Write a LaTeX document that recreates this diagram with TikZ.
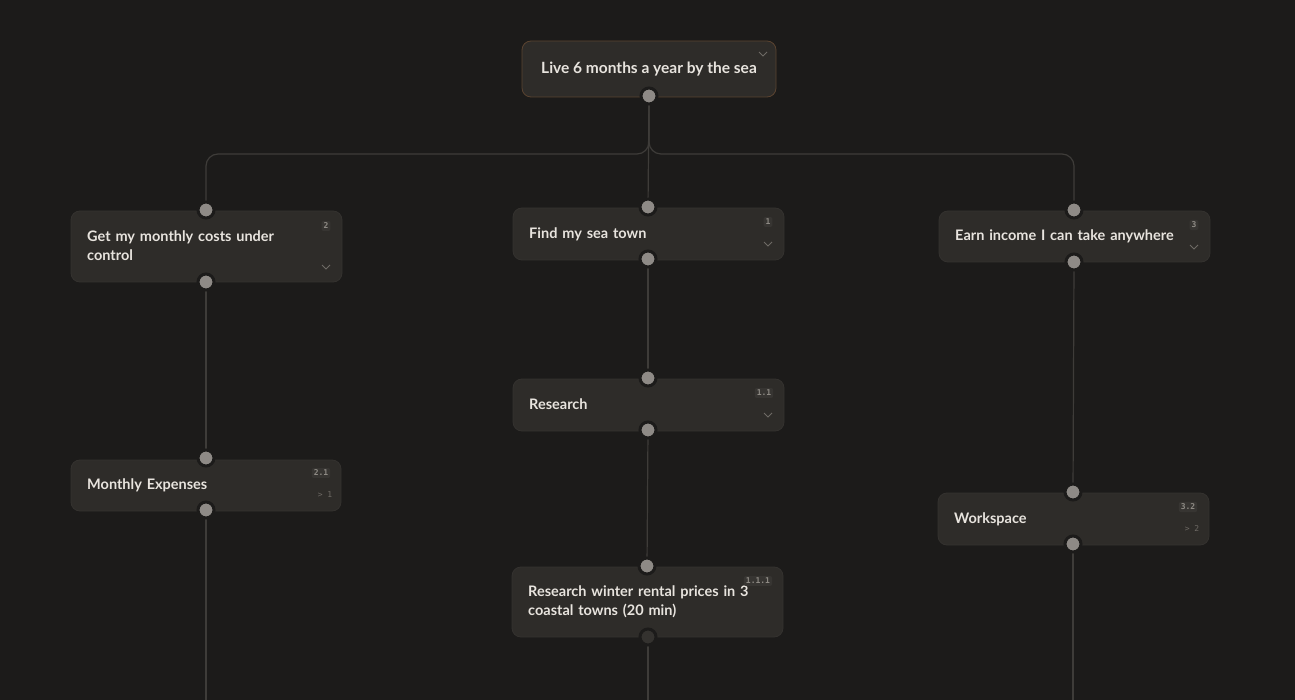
\documentclass[tikz,border=0pt]{standalone}
\usepackage{fontspec}
\setmainfont{Lato}
\setmonofont{DejaVu Sans Mono}
\begin{document}
\begin{tikzpicture}[x=1pt,y=-1pt,
  card/.style={draw=cardedge,fill=cardbg,rounded corners=9pt,line width=0.8pt,inner sep=0pt,outer sep=0pt},
  ttl/.style={anchor=west,align=left,inner sep=0pt,text=txt,font=\fontsize{14.5}{19}\selectfont\bfseries,text width=#1},
  ttl/.default=230pt,
  badge/.style={fill=badgebg,rounded corners=2pt,text=badgetxt,font=\ttfamily\bfseries\fontsize{8}{9}\selectfont,inner sep=2pt},
  chev/.style={draw=chevc,line width=0.8pt},
  hnd/.style={circle,fill=handle,draw=bg,line width=3pt,minimum size=16pt,inner sep=0pt},
  hndd/.style={circle,fill=cardedge,draw=bg,line width=3pt,minimum size=16pt,inner sep=0pt},
  wire/.style={draw=wirec,line width=1.2pt}]
\definecolor{bg}{HTML}{1C1B1A}
\definecolor{cardbg}{HTML}{2E2C29}
\definecolor{cardedge}{HTML}{34322F}
\definecolor{txt}{HTML}{E8E4DE}
\definecolor{badgebg}{HTML}{373532}
\definecolor{badgetxt}{HTML}{8E8A84}
\definecolor{chevc}{HTML}{6E6A65}
\definecolor{handle}{HTML}{8E8A86}
\definecolor{wirec}{HTML}{3E3C39}
\definecolor{topedge}{HTML}{5A4330}
\fill[bg] (0,0) rectangle (1295,700);
\useasboundingbox (0,0) rectangle (1295,700);
\newcommand\chevat[2]{\draw[chev] (#1-4,#2-2) -- (#1,#2+2) -- (#1+4,#2-2);}
% cards
\path[card,draw=topedge] (522,41) rectangle (776,97);
\node[text=txt,inner sep=0pt,font=\fontsize{15.5}{19}\selectfont\bfseries] (t) at (649,69) {Live 6 months a year by the sea};
\chevat{763}{54}
\path[card] (71,211) rectangle (342,282);
\node[ttl=200pt] (a) at (87,246) {Get my monthly costs under control};
\node[badge] at (326,226) {2};
\chevat{326}{267}
\path[card] (513,208) rectangle (784,260);
\node[ttl] (b) at (529,234) {Find my sea town};
\node[badge] at (768,222) {1};
\chevat{768}{244}
\path[card] (939,211) rectangle (1210,262);
\node[ttl] (c) at (955,236) {Earn income I can take anywhere};
\node[badge] at (1194,225) {3};
\chevat{1194}{247}
\path[card] (513,379) rectangle (784,431);
\node[ttl] (b1) at (529,404) {Research};
\node[badge] at (764,393) {1.1};
\chevat{768}{415}
\path[card] (71,460) rectangle (341,511);
\node[ttl] (a1) at (87,485) {Monthly Expenses};
\node[badge] at (321,473) {2.1};
\node[text=chevc,font=\ttfamily\fontsize{8}{9}\selectfont] at (325,495) {> 1};
\path[card] (938,493) rectangle (1209,545);
\node[ttl] (c1) at (954,519) {Workspace};
\node[badge] at (1188,507) {3.2};
\node[text=chevc,font=\ttfamily\fontsize{8}{9}\selectfont] at (1192,529) {> 2};
\path[card] (512,567) rectangle (783,637);
\node[ttl=225pt] (b11) at (528,602) {Research winter rental prices in 3 coastal towns (20 min)};
\node[badge] at (758,581) {1.1.1};
% handles
\coordinate (tb) at (649,96);
\coordinate (at) at (206,210); \coordinate (ab) at (206,282);
\coordinate (bt) at (648,207); \coordinate (bb) at (648,259);
\coordinate (ct) at (1074,210); \coordinate (cb) at (1074,262);
\coordinate (b1t) at (648,378); \coordinate (b1b) at (648,430);
\coordinate (a1t) at (206,458); \coordinate (a1b) at (206,510);
\coordinate (c1t) at (1073,492); \coordinate (c1b) at (1073,544);
\coordinate (b11t) at (647,566); \coordinate (b11b) at (648,637);
\coordinate (ae) at (206,700); \coordinate (be) at (648,700); \coordinate (ce) at (1073,700);
% wires
\draw[wire] (tb) -- (bt);
\draw[wire,rounded corners=12pt] (tb) |- (206,154) -- (at);
\draw[wire,rounded corners=12pt] (tb) |- (1074,154) -- (ct);
\draw[wire] (ab) -- (a1t);
\draw[wire] (bb) -- (b1t);
\draw[wire] (b1b) -- (b11t);
\draw[wire] (cb) -- (c1t);
\draw[wire] (a1b) -- (ae);
\draw[wire] (b11b) -- (be);
\draw[wire] (c1b) -- (ce);
\foreach \p in {tb,at,ab,bt,bb,ct,cb,b1t,b1b,a1t,a1b,c1t,c1b,b11t}
  \node[hnd] at (\p) {};
\node[hndd] at (b11b) {};
\end{tikzpicture}
\end{document}
